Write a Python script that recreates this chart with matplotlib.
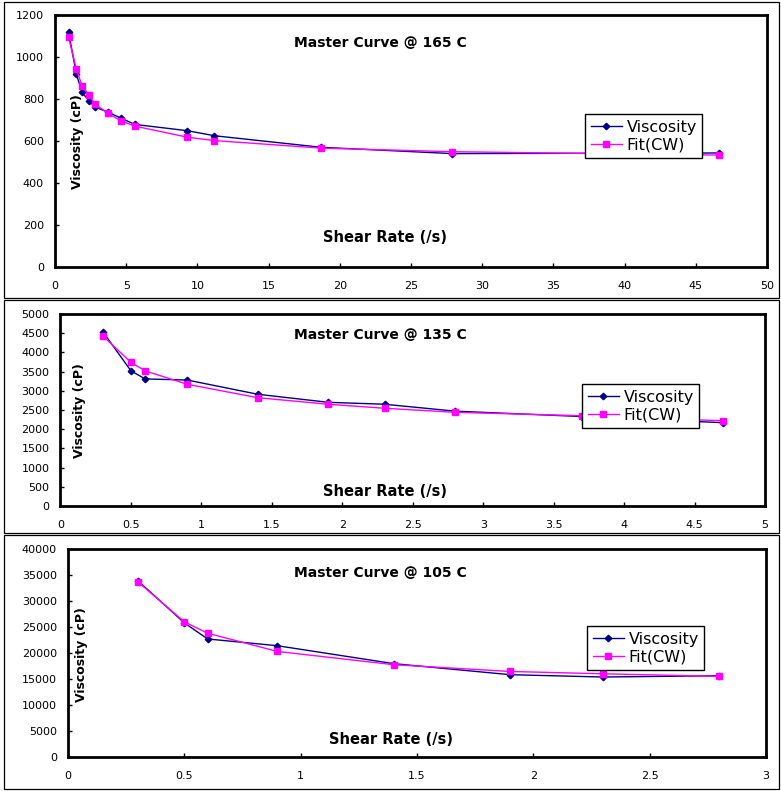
import matplotlib
matplotlib.use('Agg')
import matplotlib.pyplot as plt
from matplotlib.patches import Rectangle

# ---------------- data ----------------
x165 = [0.95, 1.5, 1.9, 2.4, 2.8, 3.7, 4.6, 5.6, 9.3, 11.2, 18.7, 27.9, 46.6]
visc165 = [1120, 918, 832, 790, 762, 738, 710, 679, 649, 625, 570, 540, 543]
fit165 = [1094, 943, 863, 818, 776, 733, 697, 671, 618, 602, 566, 549, 533]

x135 = [0.3, 0.5, 0.6, 0.9, 1.4, 1.9, 2.3, 2.8, 3.7, 4.7]
visc135 = [4540, 3520, 3310, 3280, 2910, 2700, 2650, 2470, 2330, 2170]
fit135 = [4430, 3740, 3520, 3170, 2820, 2650, 2545, 2440, 2350, 2220]

x105 = [0.3, 0.5, 0.6, 0.9, 1.4, 1.9, 2.3, 2.8]
visc105 = [33900, 25800, 22700, 21400, 17950, 15830, 15380, 15630]
fit105 = [33700, 26000, 23800, 20300, 17750, 16450, 16000, 15500]

titles = ["Master Curve @ 165 C", "Master Curve @ 135 C", "Master Curve @ 105 C"]
series_labels = ["Viscosity", "Fit(CW)"]
xlabel_text = "Shear Rate (/s)"
ylabel_text = "Viscosity (cP)"

xticks165 = [0, 5, 10, 15, 20, 25, 30, 35, 40, 45, 50]
xticklabels165 = ["0", "5", "10", "15", "20", "25", "30", "35", "40", "45", "50"]
yticks165 = [0, 200, 400, 600, 800, 1000, 1200]

xticks135 = [0, 0.5, 1, 1.5, 2, 2.5, 3, 3.5, 4, 4.5, 5]
xticklabels135 = ["0", "0.5", "1", "1.5", "2", "2.5", "3", "3.5", "4", "4.5", "5"]
yticks135 = [0, 500, 1000, 1500, 2000, 2500, 3000, 3500, 4000, 4500, 5000]

xticks105 = [0, 0.5, 1, 1.5, 2, 2.5, 3]
xticklabels105 = ["0", "0.5", "1", "1.5", "2", "2.5", "3"]
yticks105 = [0, 5000, 10000, 15000, 20000, 25000, 30000, 35000, 40000]

# ---------------- layout ----------------
W, H = 781, 791
fig = plt.figure(figsize=(W / 100, H / 100), dpi=100)
fig.patch.set_facecolor('white')


def fx(px):
    return px / W


def fy(py):
    return 1 - py / H


# panel frames (pixel boxes: left, top, right, bottom)
for (l, t, r, b) in [(4, 2, 779, 298), (4, 300, 779, 533), (4, 535, 779, 789)]:
    fig.add_artist(Rectangle((fx(l), fy(b)), fx(r) - fx(l), fy(t) - fy(b),
                             transform=fig.transFigure, fill=False,
                             edgecolor='black', linewidth=0.9))

panels = [
    dict(x=x165, v=visc165, f=fit165, title=titles[0],
         box=(55, 15, 767, 267), xlim=(0, 50), ylim=(0, 1200),
         xt=xticks165, xtl=xticklabels165, yt=yticks165,
         title_pos=(380, 43), xl_pos=(385, 237), yl_pos=(77, 142), leg=(585, 114)),
    dict(x=x135, v=visc135, f=fit135, title=titles[1],
         box=(60.5, 314, 765, 506), xlim=(0, 5), ylim=(0, 5000),
         xt=xticks135, xtl=xticklabels135, yt=yticks135,
         title_pos=(380, 335), xl_pos=(385, 492), yl_pos=(80, 411), leg=(582, 384)),
    dict(x=x105, v=visc105, f=fit105, title=titles[2],
         box=(68, 549, 766, 757), xlim=(0, 3), ylim=(0, 40000),
         xt=xticks105, xtl=xticklabels105, yt=yticks105,
         title_pos=(380, 573), xl_pos=(391, 739), yl_pos=(81, 655), leg=(587, 626)),
]

for p in panels:
    l, t, r, b = p['box']
    ax = fig.add_axes([fx(l), fy(b), fx(r) - fx(l), fy(t) - fy(b)])
    ax.plot(p['x'], p['v'], color='#000080', marker='D', markersize=3.3,
            linewidth=1.0, label=series_labels[0])
    ax.plot(p['x'], p['f'], color='#FF00FF', marker='s', markersize=4,
            linewidth=1.0, label=series_labels[1])
    ax.set_xlim(*p['xlim'])
    ax.set_ylim(*p['ylim'])
    ax.set_xticks(p['xt'])
    ax.set_xticklabels(p['xtl'])
    ax.set_yticks(p['yt'])
    ax.set_yticklabels([str(v) for v in p['yt']])
    for s in ax.spines.values():
        s.set_linewidth(2.0)
        s.set_color('black')
    ax.tick_params(axis='both', direction='in', length=3, width=1.0,
                   labelsize=8, colors='black')
    ax.tick_params(axis='x', pad=10)
    ax.tick_params(axis='y', pad=8)

    w = r - l
    h = b - t
    tx, ty = p['title_pos']
    ax.set_title(p['title'], x=(tx - l) / w, y=(b - ty) / h, pad=0,
                 fontsize=10, fontweight='bold', va='center', ha='center')
    xlx, xly = p['xl_pos']
    ax.set_xlabel(xlabel_text, fontsize=10.5, fontweight='bold', va='center')
    ax.xaxis.set_label_coords((xlx - l) / w, (b - xly) / h)
    ylx, yly = p['yl_pos']
    ax.set_ylabel(ylabel_text, fontsize=9, fontweight='bold', va='center')
    ax.yaxis.set_label_coords((ylx - l) / w, (b - yly) / h)

    lx, ly = p['leg']
    leg = ax.legend(loc='upper left', bbox_to_anchor=(fx(lx), fy(ly)),
                    bbox_transform=fig.transFigure, frameon=True, fancybox=False,
                    edgecolor='black', framealpha=1, borderaxespad=0,
                    borderpad=0.35, labelspacing=0.2, handlelength=1.95,
                    handletextpad=0.3, fontsize=11.5)
    leg.get_frame().set_linewidth(1.0)

fig.savefig('out.png', dpi=100, facecolor='white')
